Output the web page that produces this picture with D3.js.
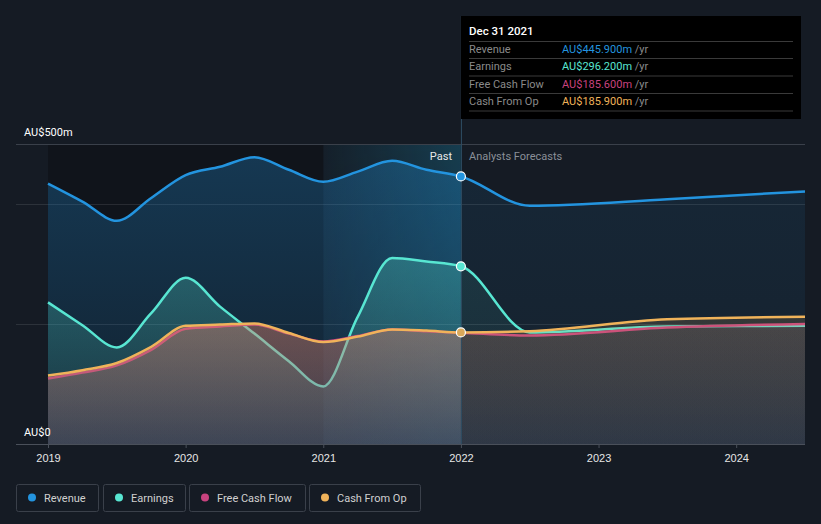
<!DOCTYPE html>
<html><head><meta charset="utf-8">
<script src="https://cdn.jsdelivr.net/npm/d3@7"></script>
<style>
html,body{margin:0;padding:0;background:#151b24;}
svg{display:block;font-family:Roboto,"Noto Sans",sans-serif;}
</style></head><body>
<svg id="c" width="821" height="524"></svg>
<script>
// ---- data ----
const dates = [2019, 2019.25, 2019.5, 2019.75, 2020, 2020.25, 2020.5, 2020.75, 2021, 2021.25, 2021.5, 2021.75, 2022, 2022.5, 2023.5, 2024.5];
const revenue  = [434, 404, 372, 410, 448, 462, 478, 457, 437, 454, 472, 457, 445.9, 397, 408, 421];
const earnings = [236, 198, 161, 218, 277, 229, 184, 138, 96, 212, 310, 304, 296.2, 186, 196, 197];
const fcf      = [109, 119, 131, 157, 192, 196, 199, 184, 171, 180, 191, 188, 185.6, 181, 194, 200];
const cfo      = [114, 123, 135, 162, 197, 199, 201, 185, 170, 179, 191, 189, 185.9, 188, 208, 212];
const xTicks = [2019, 2020, 2021, 2022, 2023, 2024];
const seriesNames = ["Revenue", "Earnings", "Free Cash Flow", "Cash From Op"];
const seriesColors = ["#2394df", "#58e6d2", "#c8437f", "#f0b35a"];
const tooltipTitle = "Dec 31 2021";
const tooltipValues = ["AU$445.900m", "AU$296.200m", "AU$185.600m", "AU$185.900m"];
const nowDate = 2022, bandStart = 2021;

const svg = d3.select("#c");
const x = d3.scaleLinear().domain([2019, 2024.5]).range([48, 805]);
const y = d3.scaleLinear().domain([0, 500]).range([444, 144]);
const seriesData = [revenue, earnings, fcf, cfo];
const defs = svg.append("defs");

defs.append("clipPath").attr("id","past").append("rect").attr("x",0).attr("y",0).attr("width",x(nowDate)).attr("height",524);
defs.append("clipPath").attr("id","fut").append("rect").attr("x",x(nowDate)).attr("y",0).attr("width",821-x(nowDate)).attr("height",524);

// background darker past
svg.append("rect").attr("x",x(2019)).attr("y",y(500)).attr("width",x(bandStart)-x(2019)).attr("height",y(0)-y(500)).attr("fill","#10141b");
// highlight band (horizontal gradient, faded toward bottom with a mask)
const bg = defs.append("linearGradient").attr("id","band").attr("x1","0").attr("x2","1").attr("y1","0").attr("y2","0");
bg.append("stop").attr("offset","0").attr("stop-color","#1a95c0").attr("stop-opacity",0.04);
bg.append("stop").attr("offset","1").attr("stop-color","#1a95c0").attr("stop-opacity",0.28);
const mg = defs.append("linearGradient").attr("id","bandMaskG").attr("x1","0").attr("x2","0").attr("y1","0").attr("y2","1");
mg.append("stop").attr("offset","0").attr("stop-color","#fff").attr("stop-opacity",1);
mg.append("stop").attr("offset","1").attr("stop-color","#fff").attr("stop-opacity",0.45);
defs.append("mask").attr("id","bandMask").attr("maskUnits","userSpaceOnUse")
  .append("rect").attr("x",x(bandStart)).attr("y",y(500)).attr("width",x(nowDate)-x(bandStart)).attr("height",y(0)-y(500)).attr("fill","url(#bandMaskG)");
svg.append("rect").attr("x",x(bandStart)).attr("y",y(500)).attr("width",x(nowDate)-x(bandStart)).attr("height",y(0)-y(500))
  .attr("fill","url(#band)").attr("mask","url(#bandMask)");

// grid
[0,200,400].forEach(v=>{
  svg.append("line").attr("x1",16).attr("x2",805).attr("y1",y(v)+0.5).attr("y2",y(v)+0.5)
   .attr("stroke", "#ffffff").attr("stroke-opacity", 0.1);
});
svg.append("line").attr("x1",16).attr("x2",805).attr("y1",y(500)+0.5).attr("y2",y(500)+0.5).attr("stroke","#3a404a");

// gradients for areas: [topColor, topOpacity, bottomColor, bottomOpacity]
const slate = "#6e7080";
const pastStops = [
  [seriesColors[0],0.28, seriesColors[0],0.1],
  [seriesColors[1],0.28, seriesColors[1],0.08],
  [seriesColors[2],0.25, seriesColors[2],0.1],
  [seriesColors[3],0.25, slate,0.3]];
const futStops = [
  [seriesColors[0],0.1, seriesColors[0],0.05],
  [seriesColors[1],0.09, seriesColors[1],0.04],
  [seriesColors[2],0.1, seriesColors[2],0.04],
  [seriesColors[3],0.14, slate,0.2]];
seriesData.forEach((vals,i)=>{
  [["p",pastStops[i]],["f",futStops[i]]].forEach(([k,s])=>{
    const g = defs.append("linearGradient").attr("id",`g${k}${i}`).attr("gradientUnits","userSpaceOnUse")
      .attr("x1",0).attr("x2",0).attr("y1",y(d3.max(vals))).attr("y2",y(0));
    g.append("stop").attr("offset","0").attr("stop-color",s[0]).attr("stop-opacity",s[1]);
    g.append("stop").attr("offset","1").attr("stop-color",s[2]).attr("stop-opacity",s[3]);
  });
});

const curve = d3.curveMonotoneX;
seriesData.forEach((vals,i)=>{
  const pts = dates.map((d,j)=>[d, vals[j]]);
  const area = d3.area().x(d=>x(d[0])).y0(y(0)).y1(d=>y(d[1])).curve(curve);
  const line = d3.line().x(d=>x(d[0])).y(d=>y(d[1])).curve(curve);
  svg.append("path").attr("d",area(pts)).attr("fill",`url(#gp${i})`).attr("clip-path","url(#past)");
  svg.append("path").attr("d",area(pts)).attr("fill",`url(#gf${i})`).attr("clip-path","url(#fut)");
  svg.append("path").attr("d",line(pts)).attr("fill","none").attr("stroke",seriesColors[i]).attr("stroke-width",2.5);
});

// bottom axis
svg.append("line").attr("x1",16).attr("x2",805).attr("y1",y(0)+0.5).attr("y2",y(0)+0.5).attr("stroke","#4a505a");
const xa = svg.append("g").attr("transform",`translate(0,${y(0)})`)
  .call(d3.axisBottom(x).tickValues(xTicks).tickFormat(d3.format("d")).tickSize(4).tickPadding(6));
xa.select(".domain").remove();
xa.selectAll("line").attr("stroke","#4a505a");
xa.selectAll("text").attr("fill","#e6e6e6").attr("font-size",11);

// now line
svg.append("line").attr("x1",x(nowDate)+0.5).attr("x2",x(nowDate)+0.5).attr("y1",16).attr("y2",y(0))
  .attr("stroke","#2f4e63").attr("stroke-width",1);

// dots
[0,1,3].forEach(i=>{
  const j = dates.indexOf(nowDate);
  svg.append("circle").attr("cx",x(nowDate)).attr("cy",y(seriesData[i][j])).attr("r",4.5)
    .attr("fill",i===3?"#d9a85a":seriesColors[i]).attr("stroke","#ffffff").attr("stroke-width",1.2);
});

// labels
svg.append("text").attr("x",24).attr("y",136).attr("fill","#ffffff").attr("font-size",11).text("AU$500m");
svg.append("text").attr("x",24).attr("y",436).attr("fill","#ffffff").attr("font-size",11).text("AU$0");
svg.append("text").attr("x",452).attr("y",160).attr("text-anchor","end").attr("fill","#e8e8e8").attr("font-size",11).text("Past");
svg.append("text").attr("x",469).attr("y",160).attr("fill","#8a8f98").attr("font-size",11).text("Analysts Forecasts");

// tooltip
const tt = svg.append("g");
tt.append("rect").attr("x",461).attr("y",16).attr("width",340).attr("height",103).attr("fill","#000000");
tt.append("text").attr("x",469).attr("y",35).attr("fill","#ffffff").attr("font-size",11.5).attr("font-weight",500).text(tooltipTitle);
[41.5,58.5,76,93.5,111].forEach(yy=>{
  tt.append("line").attr("x1",469).attr("x2",793).attr("y1",yy).attr("y2",yy).attr("stroke","#3a3a3a");
});
seriesNames.forEach((n,i)=>{
  const yy = 53 + i*17.4;
  tt.append("text").attr("x",469).attr("y",yy).attr("fill","#8a8a8a").attr("font-size",11).text(n);
  const t = tt.append("text").attr("x",562).attr("y",yy).attr("font-size",11);
  t.append("tspan").attr("fill",seriesColors[i]).text(tooltipValues[i]);
  t.append("tspan").attr("fill","#8a8a8a").text(" /yr");
});

// legend
const boxes = [[16,82],[103,82],[189,116],[309,111]];
seriesNames.forEach((n,i)=>{
  const [bx,bw] = boxes[i];
  svg.append("rect").attr("x",bx+0.5).attr("y",484.5).attr("width",bw).attr("height",27).attr("rx",2)
    .attr("fill","none").attr("stroke","#3a404a");
  svg.append("circle").attr("cx",bx+16).attr("cy",497.5).attr("r",4).attr("fill",seriesColors[i]);
  svg.append("text").attr("x",bx+28).attr("y",501.5).attr("fill","#d0d0d0").attr("font-size",11).text(n);
});
</script></body></html>
